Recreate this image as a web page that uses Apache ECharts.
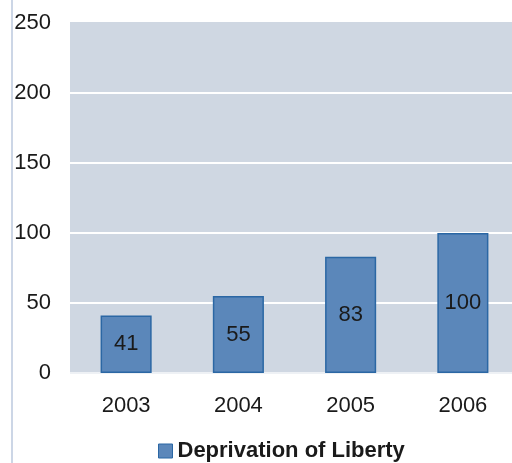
<!DOCTYPE html>
<html>
<head>
<meta charset="utf-8">
<script src="https://cdn.jsdelivr.net/npm/echarts@6/dist/echarts.min.js"></script>
<style>
html,body{margin:0;padding:0;background:#fff;}
#chart{width:512px;height:463px;}
</style>
</head>
<body>
<div id="chart"></div>
<script>
const categories = ['2003', '2004', '2005', '2006'];
const seriesName = 'Deprivation of Liberty';
const values = [41, 55, 83, 100];
const yTicks = [0, 50, 100, 150, 200, 250];

const BG = '#cfd7e2';
const chart = echarts.init(document.getElementById('chart'), null, {renderer: 'canvas'});
chart.setOption({
  animation: false,
  textStyle: {fontFamily: 'Liberation Sans, Arial, sans-serif'},
  graphic: [{
    type: 'rect', shape: {x: 11, y: 0, width: 2, height: 463},
    style: {fill: '#ccd6e6'}, silent: true
  }],
  grid: {
    show: true, backgroundColor: BG, borderWidth: 0,
    outerBoundsMode: 'none', containLabel: false,
    left: 70, width: 449, top: 23, height: 350
  },
  legend: {
    data: [{name: seriesName, icon: 'rect'}], left: 158, top: 440, padding: 0,
    itemWidth: 14, itemHeight: 14, itemGap: 6,
    itemStyle: {borderColor: '#2b67a4', borderWidth: 1},
    textStyle: {fontSize: 22, fontWeight: 'bold', color: '#1a1a1a', fontFamily: 'Liberation Sans, Arial, sans-serif', padding: [0, 0, 0, 0]}
  },
  xAxis: {
    type: 'category', data: categories,
    axisLine: {show: false}, axisTick: {show: false},
    axisLabel: {fontSize: 22, color: '#1a1a1a', margin: 22}
  },
  yAxis: {
    type: 'value', min: yTicks[0], max: yTicks[yTicks.length - 1], interval: 50,
    axisLine: {show: false}, axisTick: {show: false},
    axisLabel: {fontSize: 22, color: '#1a1a1a', margin: 19},
    splitLine: {show: true, lineStyle: {color: ['#eef1f5', '#ffffff', '#ffffff', '#ffffff', '#ffffff', BG], width: 2}}
  },
  series: [{
    name: seriesName, type: 'bar', data: values, barWidth: '45.5%',
    itemStyle: {color: '#5b87ba', borderColor: '#2b67a4', borderWidth: 1.5},
    label: {show: true, position: 'inside', fontSize: 22, color: '#1a1a1a'}
  }]
});
</script>
</body>
</html>
